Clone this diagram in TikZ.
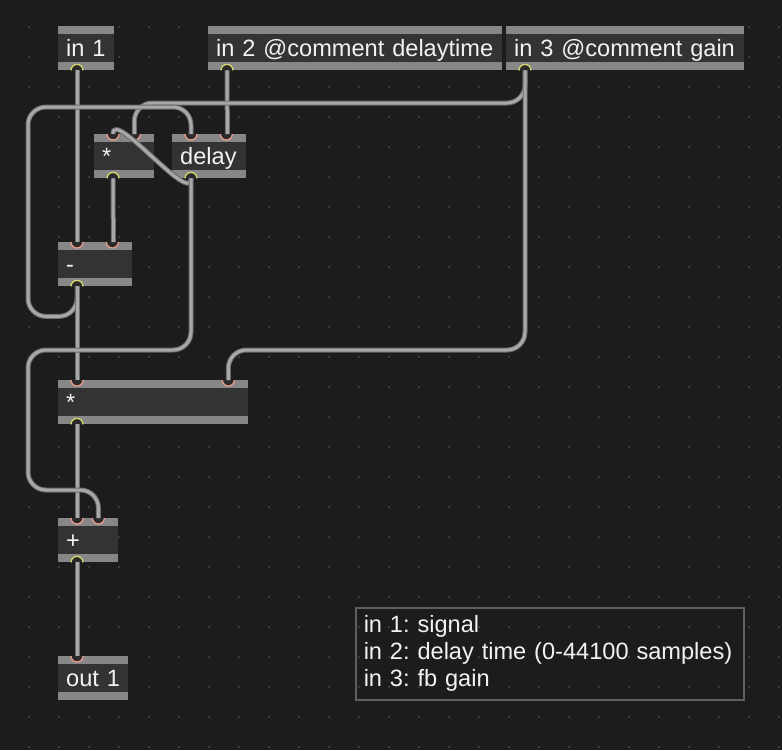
\documentclass[tikz,border=0pt]{standalone}
\usepackage{fontspec}
\setmainfont{Liberation Sans}

\begin{document}
\begin{tikzpicture}[x=1pt,y=1pt,yscale=-1,
  obj/.style={anchor=north west, fill=objbody, text=objtext, text width=#1,
    inner xsep=8pt, inner ysep=0pt, minimum height=44pt,
    text height=19pt, text depth=3pt, align=left,
    font=\fontsize{23.6}{27}\selectfont\frenchspacing,
    execute at begin node={\hyphenpenalty=10000\relax},
    path picture={
      \fill[objbar] (path picture bounding box.north west) rectangle
        ([yshift=-8pt]path picture bounding box.north east);
      \fill[objbar] (path picture bounding box.south west) rectangle
        ([yshift=8pt]path picture bounding box.south east);}},
  legend/.style={anchor=north west, draw=legendedge, line width=1.5pt,
    text=objtext, text width=372pt, inner xsep=8pt, minimum height=92pt,
    align=left, font=\fontsize{23.6}{27}\selectfont\frenchspacing,
    execute at begin node={\hyphenpenalty=10000\relax}},
  cord/.style={line width=3pt, draw=cordlight, rounded corners=18pt,
    preaction={draw=corddark, line width=5pt}},
  inlet/.style={draw=inletcol, fill=portfill, line width=1.3pt},
  outlet/.style={draw=outletcol, fill=portfill, line width=1.3pt}]
  \definecolor{canvas}{HTML}{1C1C1C}
  \definecolor{griddot}{HTML}{3A3A3A}
  \definecolor{objbody}{HTML}{333333}
  \definecolor{objbar}{HTML}{878787}
  \definecolor{objtext}{HTML}{F2F2F2}
  \definecolor{cordlight}{HTML}{A8A8A8}
  \definecolor{corddark}{HTML}{6A6A6A}
  \definecolor{inletcol}{HTML}{E99A8C}
  \definecolor{outletcol}{HTML}{D5D86A}
  \definecolor{portfill}{HTML}{2A2A2A}
  \definecolor{legendedge}{HTML}{5E5E5E}

  \fill[canvas] (0,0) rectangle (782,750);
  \useasboundingbox (0,0) rectangle (782,750);
  \foreach \gx in {0,...,25}
    \foreach \gy in {0,...,24}
      \fill[griddot] (28+30*\gx,26+30*\gy) rectangle ++(2,2);

  % gen~ objects
  \node[obj=40pt] (in1) at (58,26) {in~1};
  \node[obj=278pt] (in2) at (208,26) {in~2~@comment~delaytime};
  \node[obj=222pt] (in3) at (506,26) {in~3~@comment~gain};
  \node[obj=44pt] (multop) at (94,134) {*};
  \node[obj=58pt] (delay) at (172,134) {delay};
  \node[obj=58pt] (minus) at (58,242) {-};
  \node[obj=174pt] (multgain) at (58,380) {*};
  \node[obj=44pt] (plus) at (58,518) {+};
  \node[obj=54pt] (out1) at (58,656) {out~1};

  \node[legend] (notes) at (355,607)
    {in 1: signal\\in 2: delay time (0-44100 samples)\\in 3: fb gain};

  % ports
  \foreach \o in {in1,in2,in3,multop,delay,minus,multgain,plus}
    \filldraw[outlet] ([xshift=13pt]\o.south west)
      arc[start angle=180, end angle=360, radius=6pt];
  \foreach \i in {multop,delay,minus,multgain,plus,out1}
    \filldraw[inlet] ([xshift=13pt]\i.north west)
      arc[start angle=180, end angle=0, radius=6pt];
  \foreach \i in {multop,delay,minus,multgain,plus}
    \filldraw[inlet] ([xshift=-26pt]\i.north east)
      arc[start angle=180, end angle=0, radius=6pt];

  % patch cords
  \draw[cord] ([xshift=19pt]in1.south west) -- ([xshift=19pt]minus.north west);
  \draw[cord] ([xshift=19pt]in2.south west) -- ([xshift=-19pt]delay.north east);
  \draw[cord] ([xshift=19pt]in3.south west)
    |- ([xshift=-20pt,yshift=-31pt]multop.north east)
    -- ([xshift=-20pt]multop.north east);
  \draw[cord] ([xshift=19pt]in3.south west)
    |- ([xshift=-20pt,yshift=-30pt]multgain.north east)
    -- ([xshift=-20pt]multgain.north east);
  \draw[cord] ([xshift=19pt]delay.south west)
    .. controls +(0,27) and +(0,-26) .. ([xshift=19pt]multop.north west);
  \draw[cord] ([xshift=19pt]multop.south west) -- ([xshift=-19pt]minus.north east);
  \draw[cord] ([xshift=19pt]minus.south west) -- ++(0,30) -| (28,107)
    -| ([xshift=19pt]delay.north west);
  \draw[cord] ([xshift=19pt]minus.south west) -- ([xshift=19pt]multgain.north west);
  \draw[cord] ([xshift=19pt]multgain.south west) -- ([xshift=19pt]plus.north west);
  \draw[cord] ([xshift=19pt]delay.south west) |- (28,350)
    |- ([xshift=-20pt,yshift=-28pt]plus.north east)
    -- ([xshift=-20pt]plus.north east);
  \draw[cord] ([xshift=19pt]plus.south west) -- ([xshift=19pt]out1.north west);
\end{tikzpicture}
\end{document}
